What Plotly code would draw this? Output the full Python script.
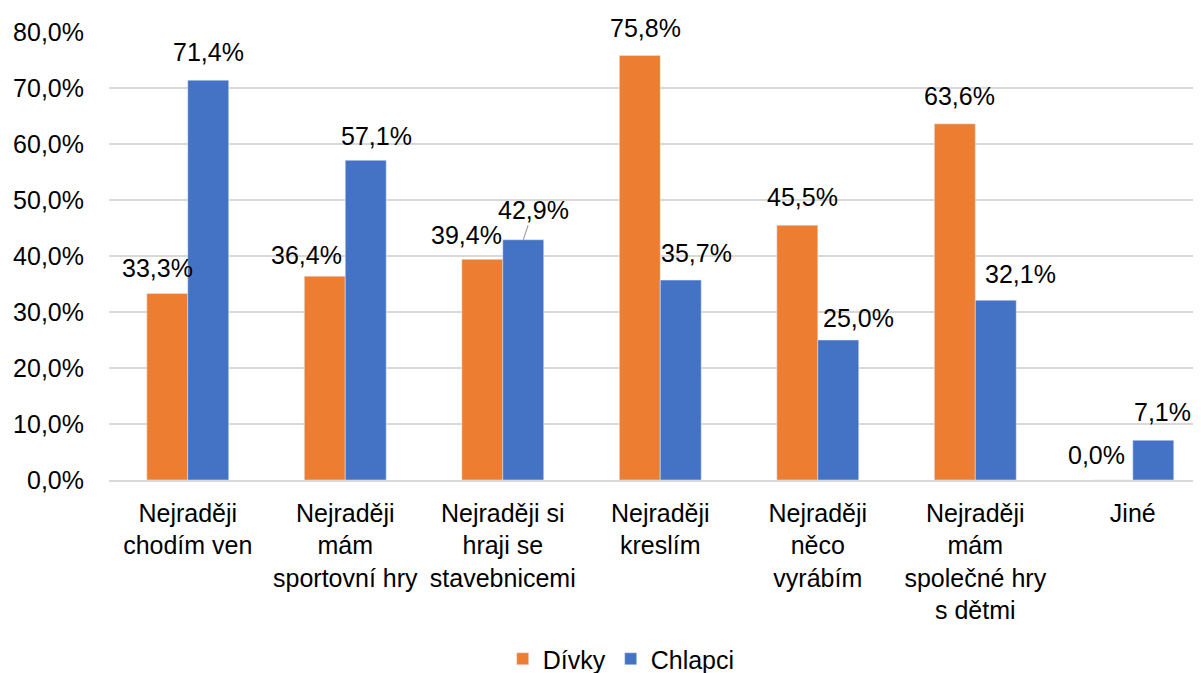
import plotly.graph_objects as go

categories = [
    "Nejraději<br>chodím ven",
    "Nejraději<br>mám<br>sportovní hry",
    "Nejraději si<br>hraji se<br>stavebnicemi",
    "Nejraději<br>kreslím",
    "Nejraději<br>něco<br>vyrábím",
    "Nejraději<br>mám<br>společné hry<br>s dětmi",
    "Jiné",
]
divky = [33.3, 36.4, 39.4, 75.8, 45.5, 63.6, 0.0]
chlapci = [71.4, 57.1, 42.9, 35.7, 25.0, 32.1, 7.1]

ORANGE = "#ED7D31"
BLUE = "#4472C4"
GRID = "#D9D9D9"
FONT = "Liberation Sans, Arial, sans-serif"
FS = 25

# label nudges (px) relative to bar top centre, as placed in the original chart
div_shift = [(-10, 26), (-18, 21), (-16, 24), (6, 28), (5, 28), (5, 28), (-16, 25)]
chl_shift = [(0, 28), (11, 24), (10, 30), (16, 27), (20, 22), (25, 26), (9, 28)]
half_bar = 20.5

fig = go.Figure()
fig.add_trace(go.Bar(x=categories, y=divky, name="Dívky", marker_color=ORANGE))
fig.add_trace(go.Bar(x=categories, y=chlapci, name="Chlapci", marker_color=BLUE))


def pct(v):
    return f"{v:.1f}".replace(".", ",") + "%"


for cat, v, (dx, dy) in zip(categories, divky, div_shift):
    fig.add_annotation(x=cat, y=v, text=pct(v), showarrow=False,
                       xshift=-half_bar + dx, yshift=dy, yanchor="middle")
for i, (cat, v, (dx, dy)) in enumerate(zip(categories, chlapci, chl_shift)):
    if i == 2:
        # leader line for the moved label
        fig.add_annotation(x=cat, y=v, text=pct(v), showarrow=True, arrowhead=0,
                           arrowcolor="#A6A6A6", arrowwidth=1.2,
                           xshift=half_bar, ax=dx, ay=-dy, yanchor="middle")
    else:
        fig.add_annotation(x=cat, y=v, text=pct(v), showarrow=False,
                           xshift=half_bar + dx, yshift=dy, yanchor="middle")

# page body has an 8px margin, so the figure is a bit smaller than the window
fig.update_layout(
    width=1193, height=665,
    margin=dict(l=101, r=0, t=24, b=193),
    paper_bgcolor="white", plot_bgcolor="white",
    font=dict(family=FONT, size=FS, color="black"),
    separators=", ",
    barmode="group", bargap=0.48, bargroupgap=0,
    showlegend=True,
    legend=dict(orientation="h", xref="container", yref="container",
                x=0.514, y=0.021, xanchor="center", yanchor="middle",
                font=dict(size=FS), itemwidth=30, traceorder="normal"),
    xaxis=dict(range=[-0.5, 6.433], showgrid=False, showline=True,
               linecolor=GRID, linewidth=1.5, ticks="", ticklabelstandoff=10,
               tickfont=dict(size=FS)),
    yaxis=dict(range=[0, 80], dtick=10, tickformat=".1f", ticksuffix="%",
               showgrid=True, gridcolor=GRID, gridwidth=1.5, zeroline=False,
               showline=False, ticks="", ticklabelstandoff=24,
               tickfont=dict(size=FS)),
)

fig.write_html("out.html")
